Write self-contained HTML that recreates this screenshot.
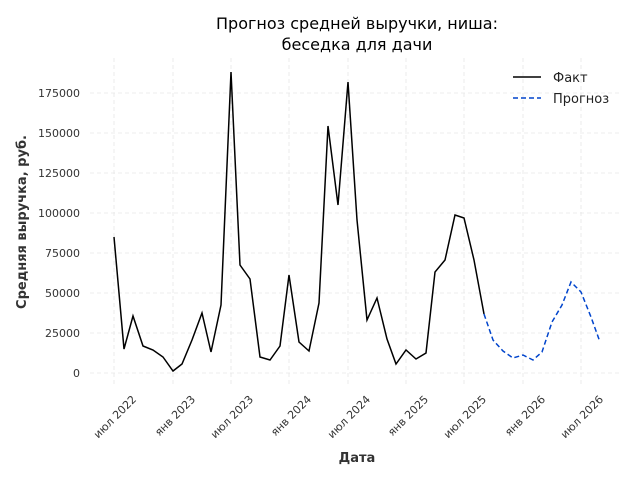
<!DOCTYPE html>
<html><head><meta charset="utf-8"><style>
body{margin:0;background:#fff;}
svg{display:block;font-family:"DejaVu Sans","Liberation Sans",sans-serif;}
</style></head><body>
<svg width="640" height="480" viewBox="0 0 640 480" xmlns="http://www.w3.org/2000/svg">
<rect width="640" height="480" fill="#fff"/>
<g stroke="#e6e6e6" stroke-width="0.8" stroke-dasharray="4,3">
<line x1="90" x2="622" y1="373" y2="373"/>
<line x1="90" x2="622" y1="333" y2="333"/>
<line x1="90" x2="622" y1="293" y2="293"/>
<line x1="90" x2="622" y1="253" y2="253"/>
<line x1="90" x2="622" y1="213" y2="213"/>
<line x1="90" x2="622" y1="173" y2="173"/>
<line x1="90" x2="622" y1="133" y2="133"/>
<line x1="90" x2="622" y1="93" y2="93"/>
<line y1="58" y2="386" x1="114" x2="114"/>
<line y1="58" y2="386" x1="173" x2="173"/>
<line y1="58" y2="386" x1="231" x2="231"/>
<line y1="58" y2="386" x1="289" x2="289"/>
<line y1="58" y2="386" x1="348" x2="348"/>
<line y1="58" y2="386" x1="406" x2="406"/>
<line y1="58" y2="386" x1="464" x2="464"/>
<line y1="58" y2="386" x1="523" x2="523"/>
<line y1="58" y2="386" x1="581" x2="581"/>
</g>
<g font-size="11" fill="#333" text-anchor="end">
<text x="80" y="377">0</text>
<text x="80" y="337">25000</text>
<text x="80" y="297">50000</text>
<text x="80" y="257">75000</text>
<text x="80" y="217">100000</text>
<text x="80" y="177">125000</text>
<text x="80" y="137">150000</text>
<text x="80" y="97">175000</text>
</g>
<g font-size="11" fill="#333" text-anchor="end">
<text transform="translate(137,400) rotate(-45)">июл 2022</text>
<text transform="translate(196,400) rotate(-45)">янв 2023</text>
<text transform="translate(254,400) rotate(-45)">июл 2023</text>
<text transform="translate(312,400) rotate(-45)">янв 2024</text>
<text transform="translate(371,400) rotate(-45)">июл 2024</text>
<text transform="translate(429,400) rotate(-45)">янв 2025</text>
<text transform="translate(487,400) rotate(-45)">июл 2025</text>
<text transform="translate(546,400) rotate(-45)">янв 2026</text>
<text transform="translate(604,400) rotate(-45)">июл 2026</text>
</g>
<polyline fill="none" stroke="#000" stroke-width="1.5" points="114,237 124,349 133,316 143,346 153,350 163,357 173,371 182,364 192,340 202,313 211,352 221,305 231,72 240,265 250,279 260,357 270,360 280,346 289,275 299,342 309,351 319,303 328,126 338,205 348,82 357,220 367,320 377,298 387,339 396,364 406,350 416,359 426,353 435,272 445,260 455,215 464,218 474,260 484,314"/>
<polyline fill="none" stroke="#0044cc" stroke-width="1.5" stroke-dasharray="5,3" points="484,314 493,340 503,351 513,358 523,355 533,360 542,352 552,322 562,305 571,282 581,292 591,317 600,342"/>
<text x="357" y="29" font-size="16" text-anchor="middle" fill="#000">Прогноз средней выручки, ниша:</text>
<text x="357" y="50" font-size="16" text-anchor="middle" fill="#000">беседка для дачи</text>
<text x="357" y="462" font-size="13" font-weight="bold" text-anchor="middle" fill="#333">Дата</text>
<text transform="translate(26,222) rotate(-90)" font-size="13" font-weight="bold" text-anchor="middle" fill="#333">Средняя выручка, руб.</text>
<line x1="513" x2="541" y1="77" y2="77" stroke="#000" stroke-width="1.5"/>
<text x="553" y="82" font-size="13" fill="#222">Факт</text>
<line x1="513" x2="541" y1="98" y2="98" stroke="#0044cc" stroke-width="1.5" stroke-dasharray="5,3"/>
<text x="553" y="103" font-size="13" fill="#222">Прогноз</text>
</svg>
</body></html>
